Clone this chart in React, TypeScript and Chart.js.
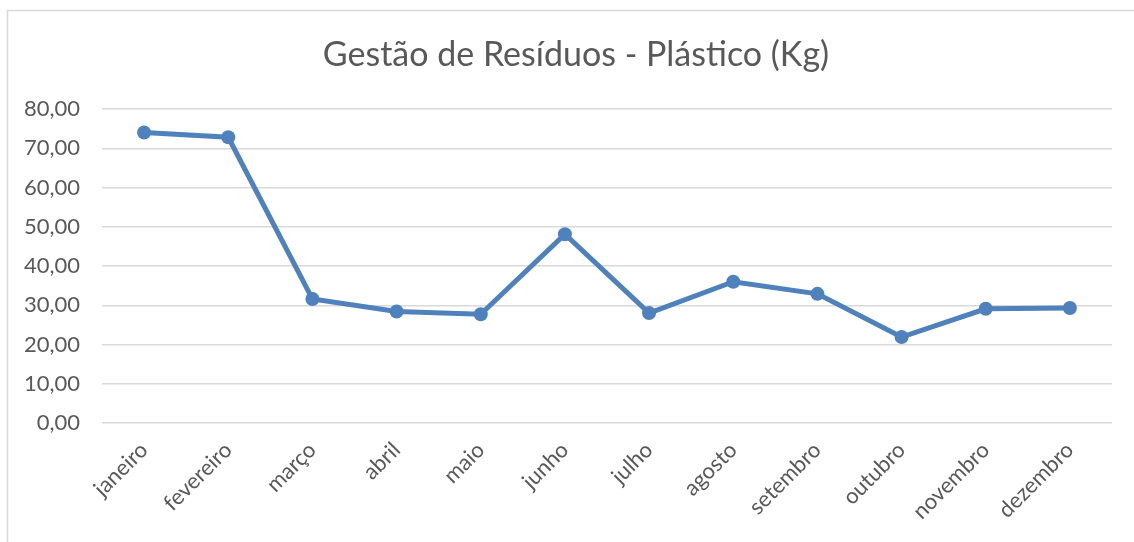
import React, { useEffect, useRef } from "react";
import { Chart, registerables } from "chart.js";

Chart.register(...registerables);

const TITLE = "Gestão de Resíduos - Plástico (Kg)";
const MONTHS = [
  "janeiro", "fevereiro", "março", "abril", "maio", "junho",
  "julho", "agosto", "setembro", "outubro", "novembro", "dezembro",
];
const PLASTIC_KG = [74.0, 72.8, 31.6, 28.4, 27.7, 48.1, 28.0, 36.0, 32.9, 21.9, 29.1, 29.3];
const Y_MIN = 0;
const Y_MAX = 80;
const Y_STEP = 10;

const W = 1134;
const H = 542;
const FONT = "Lato, 'Open Sans', sans-serif";
const TEXT_COLOR = "#595959";
const GRID_COLOR = "#d9d9d9";
const LINE_COLOR = "#4f81bd";

const frame = {
  id: "frame",
  beforeDraw(chart: any) {
    const ctx = chart.ctx;
    ctx.save();
    ctx.fillStyle = "#ffffff";
    ctx.fillRect(0, 0, chart.width, chart.height);
    ctx.strokeStyle = GRID_COLOR;
    ctx.lineWidth = 1.5;
    ctx.beginPath();
    ctx.moveTo(7.5, chart.height);
    ctx.lineTo(7.5, 10.5);
    ctx.lineTo(chart.width, 10.5);
    ctx.stroke();
    ctx.restore();
  },
  afterDraw(chart: any) {
    const ctx = chart.ctx;
    ctx.save();
    ctx.fillStyle = TEXT_COLOR;
    ctx.font = `normal 34px ${FONT}`;
    ctx.textAlign = "center";
    ctx.textBaseline = "middle";
    ctx.fillText(TITLE, (7 + chart.width + 11) / 2, 55);
    ctx.restore();
  },
};

export default function App() {
  const ref = useRef<HTMLCanvasElement | null>(null);
  useEffect(() => {
    document.body.style.margin = "0";
    const chart = new Chart(ref.current as HTMLCanvasElement, {
      type: "line",
      data: {
        labels: MONTHS,
        datasets: [
          {
            label: "Plástico (Kg)",
            data: PLASTIC_KG,
            borderColor: LINE_COLOR,
            backgroundColor: LINE_COLOR,
            borderWidth: 5,
            pointRadius: 7,
            pointBorderWidth: 0,
            pointBackgroundColor: LINE_COLOR,
            tension: 0,
          },
        ],
      },
      options: {
        responsive: false,
        animation: false,
        layout: { padding: { left: 0, right: 22, top: 109, bottom: 0 } },
        plugins: {
          legend: { display: false },
          tooltip: { enabled: false },
          title: { display: false },
        },
        scales: {
          x: {
            offset: true,
            grid: { display: false, drawTicks: false },
            border: { display: false },
            ticks: {
              color: TEXT_COLOR,
              font: { family: FONT, size: 22 },
              maxRotation: 45,
              minRotation: 45,
              padding: 14,
              autoSkip: false,
            },
            afterFit: (s: any) => {
              s.height = H - 423;
            },
          },
          y: {
            min: Y_MIN,
            max: Y_MAX,
            grid: { color: GRID_COLOR, lineWidth: 1.5, drawTicks: false },
            border: { display: false },
            ticks: {
              stepSize: Y_STEP,
              color: TEXT_COLOR,
              font: { family: FONT, size: 22 },
              padding: 22,
              callback: (v: any) => Number(v).toFixed(2).replace(".", ","),
            },
            afterFit: (s: any) => {
              s.width = 102;
            },
          },
        },
      },
      plugins: [frame],
    });
    return () => chart.destroy();
  }, []);
  return (
    <div style={{ position: "relative", width: W, height: H }}>
      <canvas ref={ref} width={W} height={H} style={{ display: "block" }} />
    </div>
  );
}
